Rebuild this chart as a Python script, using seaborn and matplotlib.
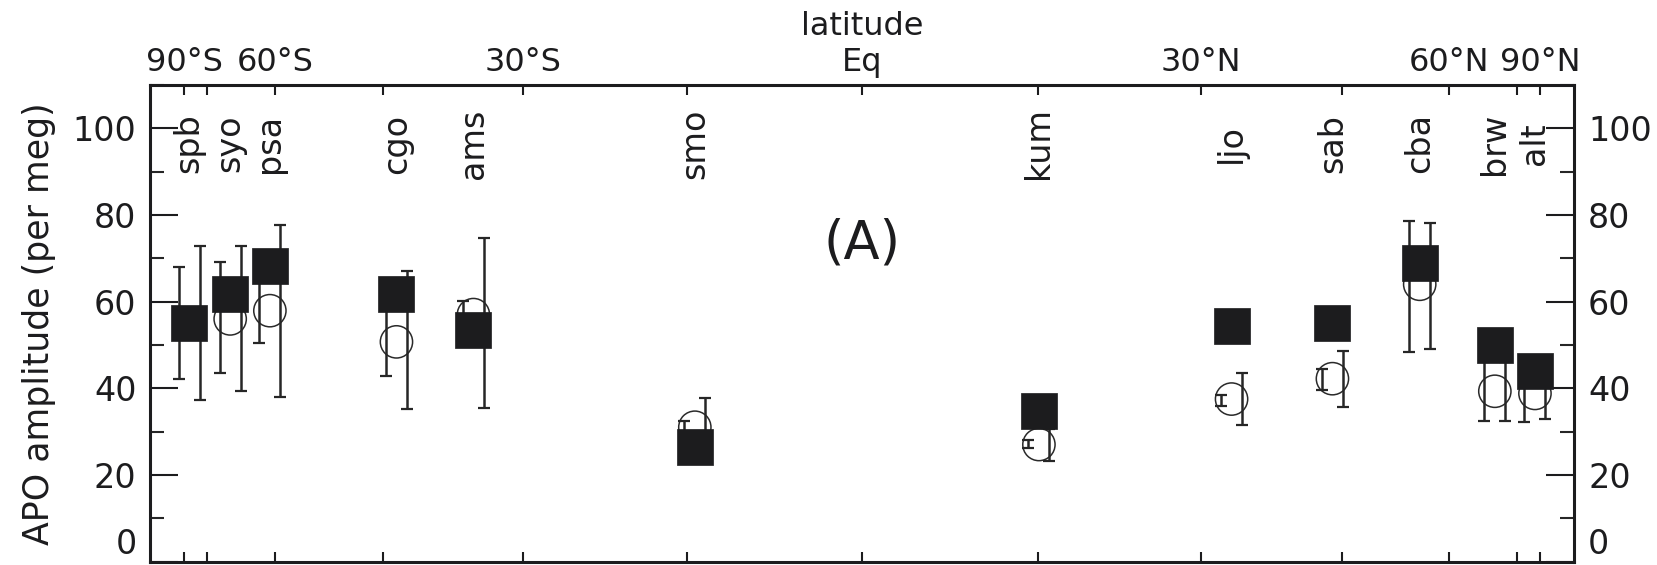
import numpy as np
import pandas as pd
import matplotlib
matplotlib.use("Agg")
import matplotlib.pyplot as plt
import matplotlib.transforms as mtransforms
from matplotlib.ticker import FixedLocator, MultipleLocator
import seaborn as sns

# ---------------- data ----------------
stations = ["spb", "syo", "psa", "cgo", "ams", "smo", "kum", "ljo", "sab", "cba", "brw", "alt"]
station_lat = [-83.1, -68.8, -60.9, -43.4, -35.0, -14.3, 15.1, 33.0, 43.9, 55.3, 68.9, 82.8]
amp_square = [55.0, 61.7, 68.3, 61.7, 53.5, 26.5, 34.8, 54.4, 55.0, 68.9, 49.9, 43.9]
amp_circle = [55.0, 56.0, 57.9, 50.7, 57.0, 31.0, 27.0, 37.5, 42.2, 64.0, 39.3, 38.8]
left_lo = [42.2, 43.5, 50.5, 42.9, 54.0, 29.5, 26.3, 36.0, 39.5, 48.3, 32.5, 32.2]
left_hi = [68.1, 69.2, 65.3, 58.5, 60.2, 32.5, 28.0, 38.5, 44.5, 78.5, 46.1, 45.4]
right_lo = [37.3, 39.3, 37.9, 35.1, 35.4, 24.2, 23.3, 31.4, 35.6, 49.1, 32.5, 32.9]
right_hi = [72.8, 72.8, 77.7, 67.0, 74.7, 37.8, 30.7, 43.5, 48.7, 78.1, 46.1, 44.7]

lat_ticks = [-90, -75, -60, -45, -30, -15, 0, 15, 30, 45, 60, 75, 90]
lat_tick_labels = ["90°S", "", "60°S", "", "30°S", "", "Eq", "", "30°N", "", "60°N", "", "90°N"]
y_major = [0, 20, 40, 60, 80, 100]

df = pd.DataFrame({
    "station": stations,
    "lat": station_lat,
    "square": amp_square,
    "circle": amp_circle,
    "llo": left_lo, "lhi": left_hi,
    "rlo": right_lo, "rhi": right_hi,
})
df["x"] = np.sin(np.deg2rad(df["lat"]))

# ---------------- style ----------------
sns.set_theme(style="ticks")
plt.rcParams["font.family"] = ["DejaVu Sans"]
plt.rcParams["axes.linewidth"] = 2.2

ink = "#1c1c1e"

fig = plt.figure(figsize=(16.57, 5.65), dpi=100)
ax = fig.add_axes([150.4 / 1657, 1 - 561.5 / 565, (1574.2 - 150.4) / 1657, (561.5 - 85) / 565])

# open circles
sns.scatterplot(data=df, x="x", y="circle", marker="o", s=540, facecolor="none",
                edgecolor="#2a2a2a", linewidth=1.1, ax=ax, zorder=2, legend=False)

# error bars (two per station, offset left and right of the station)
off_l = mtransforms.offset_copy(ax.transData, fig=fig, x=-10.5, y=0, units="dots")
off_r = mtransforms.offset_copy(ax.transData, fig=fig, x=10.5, y=0, units="dots")
for lo, hi, tr in [("llo", "lhi", off_l), ("rlo", "rhi", off_r)]:
    mid = (df[lo] + df[hi]) / 2
    err = np.vstack([mid - df[lo], df[hi] - mid])
    ax.errorbar(df["x"], mid, yerr=err, fmt="none", ecolor="#262626", elinewidth=1.8,
                capsize=4.3, capthick=1.6, transform=tr, zorder=3)

# filled squares
sns.scatterplot(data=df, x="x", y="square", marker="s", s=640, color=ink,
                edgecolor=ink, linewidth=0.5, ax=ax, zorder=4, legend=False)

# station names
for _, r in df.iterrows():
    ax.text(r["x"], 96.5, r["station"], rotation=90, ha="center", va="center",
            fontsize=24, color=ink)

ax.text(0.0, 73.4, "(A)", ha="center", va="center", fontsize=38, color=ink)

# axes
ax.set_xlim(-1.05, 1.05)
ax.set_ylim(0, 110)
ax.xaxis.set_major_locator(FixedLocator(np.sin(np.deg2rad(lat_ticks))))
ax.set_xticklabels(lat_tick_labels)
ax.yaxis.set_major_locator(FixedLocator(y_major))
ax.yaxis.set_minor_locator(MultipleLocator(10))

ax.tick_params(axis="x", which="both", direction="in", top=True, bottom=True,
               labeltop=True, labelbottom=False, length=7.2, width=1.5,
               labelsize=23, pad=5, colors=ink)
ax.tick_params(axis="y", which="major", direction="in", left=True, right=True,
               labelleft=True, labelright=True, length=20, width=1.5,
               labelsize=24, pad=10, colors=ink)
ax.tick_params(axis="y", which="minor", direction="in", left=True, right=True,
               length=10, width=1.5)

# keep the "0" labels inside the figure, as in the reference
fig.canvas.draw()
t0 = ax.yaxis.get_major_ticks()[0]
t0.label1.set_va("bottom")
t0.label2.set_va("bottom")

ax.xaxis.set_label_position("top")
ax.set_xlabel("latitude", fontsize=23, labelpad=9, color=ink)
ax.set_ylabel("APO amplitude (per meg)", fontsize=25, color=ink)
ax.yaxis.set_label_coords(-0.066, 0.5)

for sp in ax.spines.values():
    sp.set_color(ink)
    sp.set_linewidth(2.2)

fig.savefig("out.png", dpi=100)
